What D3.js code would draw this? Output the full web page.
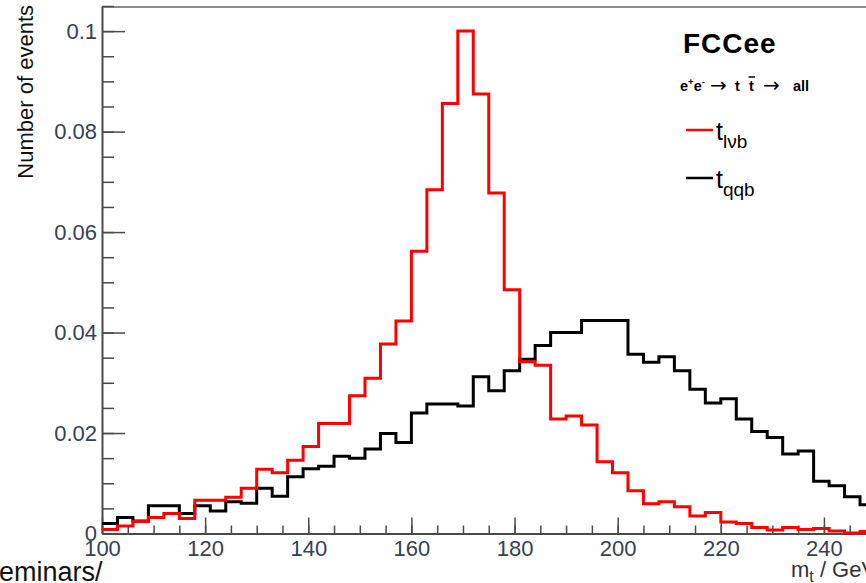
<!DOCTYPE html>
<html>
<head>
<meta charset="utf-8">
<script src="https://cdn.jsdelivr.net/npm/d3@7"></script>
<style>
  html, body { margin: 0; padding: 0; background: #fff; overflow: hidden; }
  svg { display: block; font-family: "Liberation Sans", Arial, sans-serif; }
</style>
</head>
<body>
<svg id="chart" width="866" height="583"></svg>
<script>
// ---- data ----
const binStart = 100;
const binWidth = 3;          // GeV per bin
const binCount = 50;         // 100 .. 250 GeV
const tlvb = [0.0008, 0.0015, 0.0024, 0.0032, 0.0040, 0.0030, 0.0066, 0.0066, 0.0072, 0.0090,
              0.0128, 0.0121, 0.0146, 0.0173, 0.0219, 0.0219, 0.0274, 0.0309, 0.0377, 0.0423,
              0.0562, 0.0684, 0.0856, 0.1000, 0.0875, 0.0678, 0.0485, 0.0342, 0.0335, 0.0228,
              0.0234, 0.0216, 0.0143, 0.0121, 0.0085, 0.0059, 0.0063, 0.0053, 0.0035, 0.0042,
              0.0023, 0.0020, 0.0012, 0.0007, 0.0012, 0.0008, 0.0010, 0.0005, 0.0001, 0.0004];
const tqqb = [0.0020, 0.0032, 0.0025, 0.0055, 0.0055, 0.0040, 0.0055, 0.0045, 0.0063, 0.0060,
              0.0090, 0.0074, 0.0113, 0.0129, 0.0134, 0.0154, 0.0150, 0.0168, 0.0199, 0.0181,
              0.0240, 0.0258, 0.0258, 0.0254, 0.0312, 0.0284, 0.0324, 0.0347, 0.0374, 0.0400,
              0.0400, 0.0424, 0.0424, 0.0424, 0.0357, 0.0341, 0.0352, 0.0324, 0.0287, 0.0260,
              0.0268, 0.0228, 0.0203, 0.0191, 0.0158, 0.0164, 0.0104, 0.0095, 0.0073, 0.0057];
const xMajorTicks = [100, 120, 140, 160, 180, 200, 220, 240];
const yMajorTicks = [0, 0.02, 0.04, 0.06, 0.08, 0.1];
const yTickLabels = ["0", "0.02", "0.04", "0.06", "0.08", "0.1"];
const xDomain = [100, 250];
const yDomain = [0, 0.105];

// ---- layout ----
const svg = d3.select("#chart");
const mLeft = 102, mRight = 875.5, mBottom = 533.5, mTop = 6;
const x = d3.scaleLinear().domain(xDomain).range([mLeft, mRight]);
const y = d3.scaleLinear().domain(yDomain).range([mBottom, mTop]);
const axisColor = "#4a4a4a";
const labelColor = "#364152";

// frame top line
svg.append("line").attr("x1", mLeft).attr("x2", mRight).attr("y1", mTop + 1).attr("y2", mTop + 1)
  .attr("stroke", "#666").attr("stroke-width", 1.5);

// minor ticks
const xMinor = d3.range(xDomain[0], xDomain[1] + 0.01, 5);
const yMinor = d3.range(0, yDomain[1] + 1e-9, 0.005);
svg.append("g").attr("transform", `translate(0,${mBottom})`)
  .call(d3.axisBottom(x).tickValues(xMinor).tickSize(-8).tickFormat(""))
  .call(g => g.select(".domain").remove())
  .call(g => g.selectAll("line").attr("stroke", axisColor).attr("stroke-width", 1.5));
svg.append("g").attr("transform", `translate(${mLeft},0)`)
  .call(d3.axisLeft(y).tickValues(yMinor).tickSize(-12).tickFormat(""))
  .call(g => g.select(".domain").remove())
  .call(g => g.selectAll("line").attr("stroke", axisColor).attr("stroke-width", 1.5));

// major axes
svg.append("g").attr("transform", `translate(0,${mBottom})`)
  .call(d3.axisBottom(x).tickValues(xMajorTicks).tickSize(-16).tickSizeOuter(0).tickPadding(6.5)
        .tickFormat(d3.format("d")))
  .call(g => g.select(".domain").attr("stroke", axisColor).attr("stroke-width", 2))
  .call(g => g.selectAll("line").attr("stroke", axisColor).attr("stroke-width", 1.5))
  .call(g => g.selectAll("text").attr("fill", labelColor).attr("font-size", 22)
        .attr("font-family", "Liberation Sans, Arial, sans-serif"));
svg.append("g").attr("transform", `translate(${mLeft},0)`)
  .call(d3.axisLeft(y).tickValues(yMajorTicks).tickSize(-23).tickSizeOuter(0).tickPadding(5)
        .tickFormat((d, i) => yTickLabels[i]))
  .call(g => g.select(".domain").attr("stroke", axisColor).attr("stroke-width", 2))
  .call(g => g.selectAll("line").attr("stroke", axisColor).attr("stroke-width", 1.5))
  .call(g => g.selectAll("text").attr("fill", labelColor).attr("font-size", 22)
        .attr("font-family", "Liberation Sans, Arial, sans-serif"));

// histograms
function steps(values) {
  const pts = values.map((v, i) => ({ x: binStart + i * binWidth, v }));
  pts.push({ x: binStart + binCount * binWidth, v: values[values.length - 1] });
  return pts;
}
const line = d3.line().x(d => x(d.x)).y(d => y(d.v)).curve(d3.curveStepAfter);
svg.append("path").datum(steps(tqqb)).attr("d", line)
  .attr("fill", "none").attr("stroke", "#000").attr("stroke-width", 3)
  .attr("stroke-linejoin", "miter");
svg.append("path").datum(steps(tlvb)).attr("d", line)
  .attr("fill", "none").attr("stroke", "#ff0000").attr("stroke-width", 3)
  .attr("stroke-linejoin", "miter");

// y axis title
svg.append("text").attr("transform", "translate(33,5) rotate(-90)")
  .attr("text-anchor", "end").attr("font-size", 22).attr("fill", "#111")
  .text("Number of events");

// x axis title
const xt = svg.append("text").attr("x", 791).attr("y", 577).attr("font-size", 22).attr("fill", "#333");
xt.append("tspan").text("m");
xt.append("tspan").attr("font-size", 16).attr("dy", 5).text("t");
xt.append("tspan").attr("dy", -5).text(" / GeV");

// legend / labels
svg.append("text").attr("x", 683).attr("y", 53).attr("font-size", 28).attr("font-weight", "bold")
  .attr("letter-spacing", 1).attr("fill", "#000").text("FCCee");

const proc = svg.append("g").attr("font-size", 14.5).attr("font-weight", "bold").attr("fill", "#000");
const p1 = proc.append("text").attr("x", 680).attr("y", 91);
p1.append("tspan").text("e");
p1.append("tspan").attr("font-size", 9.5).attr("dy", -6).text("+");
p1.append("tspan").attr("dy", 6).text("e");
p1.append("tspan").attr("font-size", 9.5).attr("dy", -6).text("-");
proc.append("text").attr("x", 710).attr("y", 92).attr("font-weight", "normal")
  .attr("font-family", "DejaVu Sans, sans-serif").attr("font-size", 20).text("→");
proc.append("text").attr("x", 735).attr("y", 91).text("t");
proc.append("text").attr("x", 749).attr("y", 91).text("t");
proc.append("line").attr("x1", 748.5).attr("x2", 755).attr("y1", 77).attr("y2", 77)
  .attr("stroke", "#000").attr("stroke-width", 1.5);
proc.append("text").attr("x", 763).attr("y", 92).attr("font-weight", "normal")
  .attr("font-family", "DejaVu Sans, sans-serif").attr("font-size", 20).text("→");
proc.append("text").attr("x", 793).attr("y", 91).text("all");

const legend = [
  { name: "lνb", color: "#ff0000", y: 130 },
  { name: "qqb", color: "#000000", y: 178 }
];
legend.forEach(e => {
  svg.append("line").attr("x1", 686).attr("x2", 713).attr("y1", e.y).attr("y2", e.y)
    .attr("stroke", e.color).attr("stroke-width", 2.5);
  const t = svg.append("text").attr("x", 716).attr("y", e.y + 10).attr("font-size", 25).attr("fill", "#000");
  t.append("tspan").text("t");
  t.append("tspan").attr("font-size", 19).attr("dy", 8).text(e.name);
});

// slide text fragment at the bottom-left
svg.append("text").attr("x", -1).attr("y", 581).attr("font-size", 27).attr("fill", "#111")
  .attr("font-family", "Liberation Sans, Arial, sans-serif").text("eminars/");
</script>
</body>
</html>
